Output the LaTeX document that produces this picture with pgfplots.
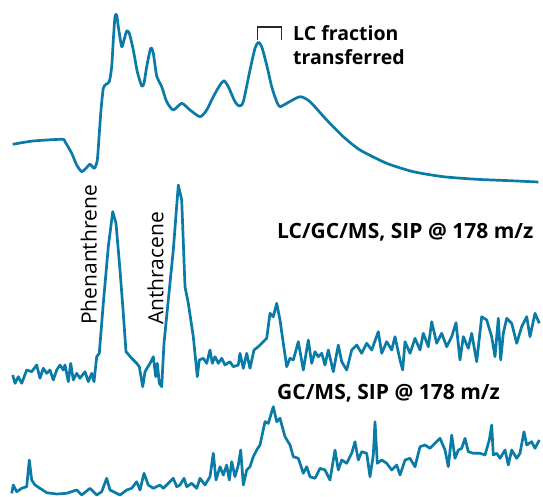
\documentclass[border=0pt]{standalone}
\usepackage{pgfplots}
\pgfplotsset{compat=1.18}
\usepackage{fontspec}
\setmainfont{Open Sans}
\definecolor{trace}{RGB}{10,122,166}

\begin{document}
\begin{tikzpicture}
\begin{axis}[
    scale only axis,
    width=543pt, height=497pt,
    xmin=0, xmax=543, ymin=0, ymax=497,
    y dir=reverse,
    hide axis,
    clip=false,
    no markers,
]
\path (rel axis cs:0,0) rectangle (rel axis cs:1,1);

% LC trace (UV)
\addplot[trace, line width=2.7pt, line join=round, smooth, tension=0.4] coordinates {
(12.7,144.3) (33,141) (61.7,139.3) (65,141.7) (71.7,153.3) (76.7,165) (81.7,171.7)
(86,168.3) (90,164.3) (94.3,168.3) (97.3,160) (99.3,133.3) (101,110) (103.3,88.3)
(106,84.3) (109.3,81.7) (111.7,66.7) (113.3,40) (115,16.7) (116.7,15) (118.3,26.7)
(121.7,46.7) (124,40) (126.7,31) (129.3,33.3) (133.3,50) (137.3,71.7) (141.7,86)
(144,83.3) (146.7,66.7) (150.7,48.3) (153.3,53.3) (156.7,76) (161.7,86.7) (166.7,101.7)
(173.3,110) (181.7,103.3) (190,110) (200,116.7) (206.7,110) (213.3,96.7) (220,85)
(224,80.7) (228.3,86.7) (235,101.7) (239.3,106) (243.3,101.7) (250,70) (255,48.3)
(258.3,42.3) (261.7,46.7) (266.7,65) (271.7,86.7) (276.7,101.7) (280,106.7)
(286.7,103.3) (300,96.7) (310,101.7) (326.7,120) (343.3,136.7) (360,150) (386.7,163.3)
(413.3,171.7) (443.3,176.7) (476.7,179.3) (510,180.7) (538.3,182)
};

% LC/GC/MS trace
\addplot[trace, line width=2.7pt, line join=round] coordinates {
(12.7,375) (15,383.3) (18.3,376.7) (21.7,383.3) (26.7,370) (31.7,371.7) (36.7,365)
(40,378.3) (43.3,368.3) (46.7,373.3) (50,370) (53.3,380) (56.7,370) (60,365) (63.3,370)
(65,365) (68.3,381.7) (70.7,363.3) (73.3,380) (76.7,373.3) (80,378.3) (85,371.7)
(88.3,381.7) (91.7,373.3) (94,381.7) (96.7,356.7) (99.3,353.3) (103.3,303.3)
(108.3,246.7) (112.7,211.7) (116,223.3) (120,270) (123.3,313.3) (126,351.7)
(131.7,358.3) (136.7,363.3) (139.3,366.7) (142.7,386.7) (145,371.7) (150,363.3)
(153.3,356.7) (155.7,376.7) (157.3,363.3) (159.3,383.3) (161.7,386.7) (164,343.3)
(168.3,300) (173.3,250) (178.3,185) (181.7,200) (185,286.7) (188.3,303.3)
(193.3,336.7) (197.3,376.7) (199.3,360) (203.3,358.3) (206.7,363.3) (210,350)
(212.3,363.3) (215,356.7) (218.3,363.3) (221.7,358.3) (225,365) (230,361.7)
(233.3,366.7) (238.3,365) (240,353.3) (243.3,368.3) (246.7,353.3) (250,368.3)
(254,350) (258.3,346.7) (263.3,341.7) (266.7,338.3) (270,313.3) (273.3,316.7)
(276.7,303.3) (280,320) (283.3,343.3) (286.7,366.7) (290,358.3) (293.3,360)
(298.3,341.7) (303.3,370) (308.3,340) (311.7,363.3) (315,351.7) (318.3,356.7)
(321.7,353.3) (325,365) (328.3,350) (333.3,371.7) (338.3,345) (341.7,361.7)
(346.7,370) (351.7,350) (356.7,345) (361.7,353.3) (366.7,343.3) (371.7,350)
(378.3,331.7) (381.7,353.3) (386.7,341.7) (391.7,350) (395,336.7) (400,360)
(402.7,370) (405,341.7) (410,353.3) (415,338.3) (420,350) (423.3,333.3) (428.3,346.7)
(431.7,321.7) (436.7,343.3) (441.7,333.3) (446.7,346.7) (451.7,336.7) (456,322.7)
(460,360) (463.3,336.7) (468.3,348.3) (471.7,333.3) (476.7,361.7) (481.7,316.7)
(486.7,320) (491.7,336.7) (495,356.7) (498.3,318.3) (500.7,360) (503.3,333.3)
(506.7,318.3) (511.7,323.3) (516.7,343.3) (521.7,326.7) (526.7,316.7) (530,336.7)
(535,313.3) (539.3,323.3)
};

% GC/MS trace
\addplot[trace, line width=2.7pt, line join=round] coordinates {
(11.7,493.3) (13.3,485) (16.7,491.7) (21.7,488.3) (26.7,486.7) (29.3,460) (31.7,480)
(35,485) (40,488.3) (46.7,492.7) (56.7,494) (66.7,493.3) (76.7,490) (81.7,495)
(90,488.3) (96.7,495) (101.7,491.7) (106.7,478.3) (110,490) (120,495) (126.7,490)
(131.7,488.3) (136.7,481.7) (140,490) (144,473.3) (148.3,485) (153.3,488.3) (160,485)
(163.3,488.3) (168.3,483.3) (173.3,478.3) (176.7,486.7) (180,485) (184,478.3)
(186.7,486.7) (191.7,483.3) (196.7,488.3) (200,478.3) (205,485) (210,476.7)
(213.3,453.3) (216,480) (220,466.7) (223.3,475) (226.7,465) (229.3,480) (231.7,461.7)
(235,476.7) (238.3,465) (240.7,450) (243.3,485) (246.7,470) (250,466.7) (253.3,456.7)
(256.7,450) (260,445) (265,421.7) (268.3,423.3) (273.3,406.7) (276.7,421.7)
(280,418.3) (285,436.7) (290,445) (293.3,456.7) (298.3,458.3) (303.3,473.3)
(306.7,466.7) (310,476.7) (315,478.3) (320,468.3) (325,470) (330,480) (335,450)
(338.3,470) (341.7,460) (346.7,463.3) (351.7,453.3) (355,441.7) (358.3,460)
(361.7,451.7) (366.7,453.3) (370,476.7) (373.3,455) (375,421.7) (377.3,463.3)
(381.7,460) (386.7,463.3) (391.7,470) (396.7,465) (400,475) (405,460) (410,458.3)
(415,466.7) (420,446.7) (425,445) (430,448.3) (435,443.3) (440,438.3) (445,450)
(448.3,466.7) (451.7,435) (455,458.3) (458.3,450) (461.7,448.3) (465,438.3)
(468.3,451.7) (473.3,453.3) (480,453.3) (485,455) (489.3,440) (491.7,425)
(493.3,455) (496.7,453.3) (500,458.3) (505,450) (508.3,465) (511.7,450) (516.7,458.3)
(520,453.3) (524,431.7) (526.7,445) (531.7,441.7) (535,448.3) (539.3,440)
};

% bracket marking the transferred fraction
\draw[black!85, line width=1.1pt] (axis cs:257.5,40) -- (axis cs:257.5,27)
    -- (axis cs:281.5,27) -- (axis cs:281.5,40);

\node[anchor=base west, inner sep=0pt, font=\fontsize{19.5}{24}\selectfont\bfseries] at (axis cs:293,41) {LC fraction};
\node[anchor=base west, inner sep=0pt, font=\fontsize{19.5}{24}\selectfont\bfseries] at (axis cs:293,65) {transferred};
\node[anchor=base west, inner sep=0pt, font=\fontsize{21}{24}\selectfont\bfseries] at (axis cs:277,238) {LC/GC/MS, SIP @ 178 m/z};
\node[anchor=base west, inner sep=0pt, font=\fontsize{21}{24}\selectfont\bfseries] at (axis cs:277,399.5) {GC/MS, SIP @ 178 m/z};
\node[anchor=base west, rotate=90, inner sep=0pt, font=\fontsize{21}{24}\selectfont] at (axis cs:96.5,325) {Phenanthrene};
\node[anchor=base west, rotate=90, inner sep=0pt, font=\fontsize{21}{24}\selectfont] at (axis cs:163.3,325) {Anthracene};
\end{axis}
\end{tikzpicture}
\end{document}
